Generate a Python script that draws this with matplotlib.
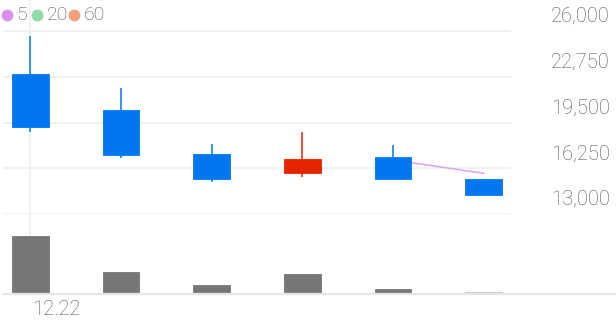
import matplotlib
matplotlib.use("Agg")
import matplotlib.pyplot as plt
import matplotlib.transforms as mtransforms
from matplotlib.lines import Line2D
import numpy as np

plt.rcParams["font.family"] = ["Roboto", "DejaVu Sans"]

# candle data (daily), Korean colour convention: red = up, blue = down
dates = ["12.22", "", "", "", "", ""]
opens = [22950, 20350, 17250, 15900, 17050, 15500]
highs = [25600, 21950, 17950, 18800, 17900, 15500]
lows = [18800, 17000, 15270, 15650, 15500, 14350]
closes = [19150, 17200, 15480, 16900, 15500, 14350]
ma5 = [np.nan, np.nan, np.nan, np.nan, 16850, 15900]
volumes = [578, 212, 85, 192, 42, 12]
price_ticks = [13000, 16250, 19500, 22750, 26000]
legend_items = [("5", "#d88fe9"), ("20", "#8fdba3"), ("60", "#f5a07b")]

UP = "#e42500"
DOWN = "#0077f0"
GRID = "#f1f1f1"
TEXT = "#555555"

W, H = 616, 321
fig = plt.figure(figsize=(W / 100, H / 100), dpi=100)


def box(x0, y0, x1, y1):
    """pixel box (top-left origin) -> figure fraction rect"""
    return [x0 / W, 1 - y1 / H, (x1 - x0) / W, (y1 - y0) / H]


ax = fig.add_axes(box(3, 0, 511, 214.3))
vax = fig.add_axes(box(3, 214.3, 511, 293.5))

x = np.arange(len(opens))
xlim = (-0.3, len(opens) - 0.7)

# price panel
for t in price_ticks:
    ax.axhline(t, color=GRID, lw=1.4, zorder=0)
ax.axvline(0, color=GRID, lw=1.4, zorder=0)

colors = [UP if c >= o else DOWN for o, c in zip(opens, closes)]
ax.vlines(x, lows, highs, colors=colors, lw=1.1, zorder=2)
ax.bar(x, np.array(closes) - np.array(opens), bottom=opens, width=0.405,
       color=colors, edgecolor=colors, lw=0.6, zorder=3)
ax.plot(x, ma5, color="#dba2ef", lw=1.1, zorder=1)

ax.set_xlim(*xlim)
ax.set_ylim(13000, 13000 + 214.3 / (183.6 / 13000))
ax.axis("off")

# right-hand price labels, sitting just above their gridlines
trans = mtransforms.blended_transform_factory(fig.transFigure, ax.transData)
trans = trans + mtransforms.ScaledTranslation(0, 5 / 100, fig.dpi_scale_trans)
for t in price_ticks:
    ax.text(610 / W, t, f"{t:,}", transform=trans, ha="right", va="bottom",
            fontsize=14.5, color=TEXT, fontweight="light", clip_on=False)

# volume panel
vcolors = ["#777777"] * (len(volumes) - 1) + ["#c4c4c4"]
vax.axvline(0, color=GRID, lw=1.4, zorder=0)
vax.bar(x, volumes, width=0.405, color=vcolors, edgecolor=vcolors, lw=0.6, zorder=2)
vax.set_xlim(*xlim)
vax.set_ylim(0, 792)
vax.axis("off")

# bottom baseline across the full width
fig.add_artist(Line2D([3 / W, 1], [1 - 293.5 / H] * 2, color="#e6e6e6", lw=1.6,
                      transform=fig.transFigure))

# date label
fig.text(32 / W, 1 - 309.5 / H, dates[0], ha="left", va="center",
         fontsize=14.5, color=TEXT, fontweight="light")

# moving-average legend
lx = [6.7, 37, 74]
for (label, col), px in zip(legend_items, lx):
    fig.add_artist(Line2D([px / W], [1 - 15 / H], marker="o", markersize=7.5,
                          color=col, lw=0, transform=fig.transFigure))
    fig.text((px + 9.5) / W, 1 - 15.5 / H, label, ha="left", va="center",
             fontsize=14, color=TEXT, fontweight="light")

fig.savefig("out.png", dpi=100)
